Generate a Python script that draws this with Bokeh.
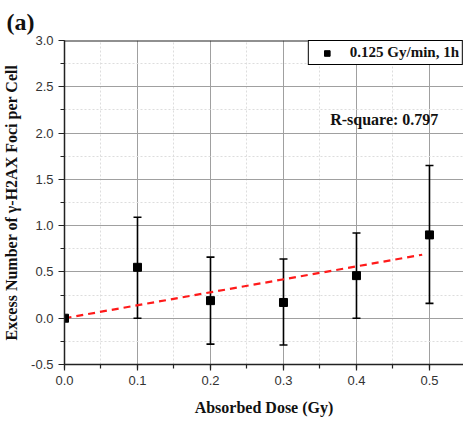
from bokeh.plotting import figure
from bokeh.models import (ColumnDataSource, Whisker, Label, Range1d, SingleIntervalTicker,
                          Legend, LegendItem, Span, PrintfTickFormatter)
from bokeh.embed import file_html
from bokeh.resources import INLINE

dose = [0.0, 0.1, 0.2, 0.3, 0.4, 0.5]
mean_foci = [0.0, 0.55, 0.19, 0.17, 0.46, 0.90]
err_low = [0.0, 0.0, -0.28, -0.29, 0.0, 0.16]
err_high = [0.0, 1.09, 0.66, 0.64, 0.92, 1.65]
fit_x = [0.0, 0.49]
fit_y = [0.0, 0.686]
series_label = "0.125 Gy/min, 1h"
r_square_text = "R-square: 0.797"

src = ColumnDataSource(dict(x=dose, y=mean_foci, lo=err_low, hi=err_high))

SERIF = "Liberation Serif"
SANS = "Liberation Sans"

p = figure(frame_width=399, frame_height=324, output_backend="svg", toolbar_location=None,
           x_range=Range1d(0.0, 0.5466), y_range=Range1d(-0.5, 3.0),
           min_border_left=56, min_border_top=37, min_border_bottom=53, min_border_right=0,
           title="(a)")
p.outline_line_color = None
p.background_fill_color = "white"
p.title.text_font = SERIF
p.title.text_font_style = "bold"
p.title.text_font_size = "24px"
p.title.text_color = "#111111"
p.title.align = "left"
p.title.offset = -58
p.title.standoff = 12

p.xaxis.ticker = SingleIntervalTicker(interval=0.1, num_minor_ticks=2)
p.yaxis.ticker = SingleIntervalTicker(interval=0.5, num_minor_ticks=2)
p.xaxis.formatter = PrintfTickFormatter(format="%.1f")
p.yaxis.formatter = PrintfTickFormatter(format="%.1f")
for ax in (p.xaxis, p.yaxis):
    ax.axis_line_color = "#222222"
    ax.axis_line_width = 1.5
    ax.major_tick_line_color = "#222222"
    ax.minor_tick_line_color = "#222222"
    ax.major_tick_line_width = 1.2
    ax.minor_tick_line_width = 1.2
    ax.major_tick_out = 6
    ax.major_tick_in = 0
    ax.minor_tick_out = 4
    ax.minor_tick_in = 0
    ax.major_label_text_font = SANS
    ax.major_label_text_font_size = "13px"
    ax.major_label_text_color = "#333333"
    ax.axis_label_text_font = SERIF
    ax.axis_label_text_font_style = "bold"
    ax.axis_label_text_color = "#111111"
    ax.axis_label_text_font_size = "16px"

p.xaxis.axis_label = "Absorbed Dose (Gy)"
p.xaxis.axis_label_standoff = 11
p.yaxis.axis_label = "Excess Number of \u03b3-H2AX Foci per Cell"
p.yaxis.axis_label_standoff = 8

for g in (p.xgrid, p.ygrid):
    g.grid_line_color = "#a0a0a0"
    g.grid_line_width = 1
    g.minor_grid_line_color = "#dddddd"
    g.minor_grid_line_dash = "2 2"
    g.minor_grid_line_width = 1

p.add_layout(Span(location=3.0, dimension="width", line_color="#222222", line_width=2))

p.line(fit_x, fit_y, line_color="#ff1a1a", line_width=2.2, line_dash="7 5")

wh = Whisker(source=src, base="x", upper="hi", lower="lo", line_color="black", line_width=1.6)
wh.upper_head.size = 8
wh.lower_head.size = 8
wh.upper_head.line_width = 1.6
wh.lower_head.line_width = 1.6
p.add_layout(wh)

sq = p.scatter("x", "y", source=src, marker="square", size=8, fill_color="black", line_color="black")

legend = Legend(items=[LegendItem(label=series_label, renderers=[sq])], location="top_right",
                border_line_color="black", border_line_width=1, border_line_alpha=1,
                label_text_font=SERIF, label_text_color="#111111",
                label_text_font_style="bold", label_text_font_size="15px", margin=0,
                padding=3, glyph_width=30, glyph_height=14, label_standoff=8,
                label_height=15, background_fill_alpha=1)
p.add_layout(legend)

p.add_layout(Label(x=0.364, y=2.05, text=r_square_text, text_font=SERIF, text_font_style="bold",
                   text_font_size="16px", text_color="#111111"))

open("out.html", "w").write(file_html(p, INLINE))
